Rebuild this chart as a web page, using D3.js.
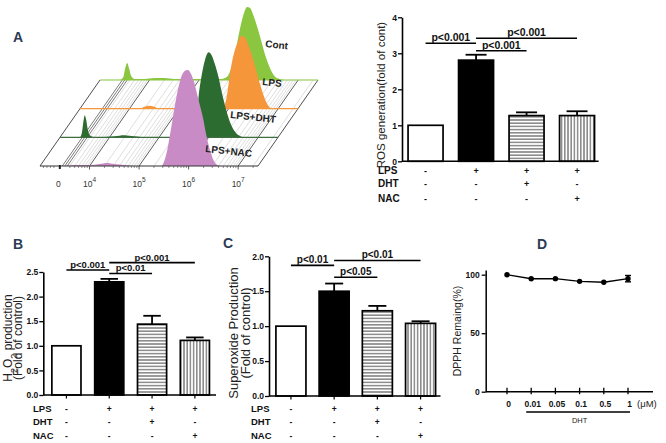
<!DOCTYPE html>
<meta charset="utf-8">
<script src="https://d3js.org/d3.v7.min.js"></script>
<style>
  body { margin: 0; background: #fff; }
  svg text { font-family: "Liberation Sans", Arial, sans-serif; }
</style>
<div id="fig"></div>
<script>
// groups and treatment table under the bars
var groups = ["Cont", "LPS", "LPS+DHT", "LPS+NAC"];
var rowLPS = ["-", "+", "+", "+"];
var rowDHT = ["-", "-", "+", "-"];
var rowNAC = ["-", "-", "-", "+"];

// A (right): ROS generation, fold of cont
var rosMean = [1.0, 2.81, 1.27, 1.27];
var rosErr  = [0, 0.15, 0.09, 0.12];
var rosSig  = [[0, 1, 3.28, "p<0.001"], [1, 3, 3.42, "p<0.001"], [1, 2, 3.07, "p<0.001"]];

// B: H2O2 production
var h2o2Mean = [1.0, 2.30, 1.44, 1.11];
var h2o2Err  = [0, 0.06, 0.17, 0.06];
var h2o2Sig  = [[0, 1, 2.54, "p<0.001"], [1, 3, 2.69, "p<0.001"], [1, 2, 2.47, "p<0.01"]];

// C: superoxide production
var supMean = [1.0, 1.50, 1.22, 1.04];
var supErr  = [0, 0.11, 0.07, 0.03];
var supSig  = [[0, 1, 1.87, "p<0.01"], [1, 3, 1.94, "p<0.01"], [1, 2, 1.70, "p<0.05"]];

// D: DPPH remaining vs DHT dose (uM)
var doses    = ["0", "0.01", "0.05", "0.1", "0.5", "1"];
var dpphMean = [100, 96.5, 96.6, 94.3, 93.5, 96.6];
var dpphErr  = [0, 0, 0, 0, 0, 2.7];

// A (left): flow histograms, [log10 intensity, count]
var contHist = [[3.0,0],[3.4,0],[3.47,3],[3.51,12],[3.55,17],[3.59,11],[3.63,4],[3.7,1],[3.9,1],[4.1,2],[4.3,2],[4.5,1],[4.8,1],[5.2,1],[5.45,1],[5.52,2],[5.58,4],[5.66,14],[5.74,30],[5.82,50],[5.9,66],[5.97,73],[6.03,72],[6.1,64],[6.18,52],[6.26,38],[6.34,24],[6.43,12],[6.52,4],[6.62,1],[6.75,0],[7.4,0]];
var lpsHist  = [[3.0,0],[4.2,0],[4.3,2],[4.4,3],[4.5,2],[4.6,0],[5.88,0],[5.93,5],[5.98,18],[6.03,36],[6.1,54],[6.18,66],[6.26,73],[6.33,71],[6.41,62],[6.49,50],[6.57,36],[6.65,22],[6.73,10],[6.8,3],[6.88,0],[7.4,0]];
var dhtHist  = [[3.0,0],[3.4,0],[3.44,4],[3.47,15],[3.5,22],[3.53,17],[3.56,8],[3.6,2],[3.7,0],[4.1,1],[4.3,2],[4.5,1],[4.7,0],[5.68,0],[5.72,6],[5.76,20],[5.8,42],[5.86,62],[5.93,78],[6.0,85],[6.06,82],[6.12,74],[6.2,60],[6.27,44],[6.35,28],[6.44,14],[6.54,5],[6.64,1],[6.72,0],[7.4,0]];
var nacHist  = [[3.0,0],[3.5,0],[3.7,1],[4.0,1],[4.2,2],[4.35,3],[4.5,2],[4.7,1],[5.0,0],[5.45,0],[5.5,4],[5.56,14],[5.62,30],[5.68,48],[5.75,68],[5.82,84],[5.9,94],[5.98,96],[6.05,92],[6.12,82],[6.2,66],[6.29,48],[6.36,30],[6.43,16],[6.5,6],[6.58,1],[6.65,0],[7.4,0]];
var flowHists  = [contHist, lpsHist, dhtHist, nacHist];
var flowColors = ["#8ac640", "#f6963b", "#2d6c31", "#c98bc5"];
var flowLines  = ["#8ac640", "#f6963b", "#3e6e40", "#333"];

var svg = d3.select("#fig").append("svg")
    .attr("width", 666).attr("height", 443)
    .style("display", "block").style("background", "#fff");

// stripe fills
var defs = svg.append("defs");
var ph = defs.append("pattern").attr("id", "hstripe")
    .attr("patternUnits", "userSpaceOnUse").attr("width", 6).attr("height", 3.2);
ph.append("rect").attr("width", 6).attr("height", 3.2).attr("fill", "#fff");
ph.append("line").attr("x1", 0).attr("x2", 6).attr("y1", 1.6).attr("y2", 1.6)
    .attr("stroke", "#333").attr("stroke-width", 0.9);
var pv = defs.append("pattern").attr("id", "vstripe")
    .attr("patternUnits", "userSpaceOnUse").attr("width", 3.2).attr("height", 6);
pv.append("rect").attr("width", 3.2).attr("height", 6).attr("fill", "#fff");
pv.append("line").attr("y1", 0).attr("y2", 6).attr("x1", 1.6).attr("x2", 1.6)
    .attr("stroke", "#333").attr("stroke-width", 0.9);
var fills = ["#fff", "#000", "url(#hstripe)", "url(#vstripe)"];

function panelLetter(t, x, y) {
  svg.append("text").attr("x", x).attr("y", y).text(t)
    .style("font-size", "14px").style("font-weight", "bold").attr("fill", "#2b3a55");
}

function yLabel(g, lines, xs, yc, size) {
  lines.forEach(function(segs, k) {
    var t = g.append("text")
      .attr("transform", "translate(" + xs[k] + "," + yc + ") rotate(-90)")
      .attr("text-anchor", "middle").style("font-size", size + "px").attr("fill", "#222");
    segs.forEach(function(s) {
      var sp = t.append("tspan").text(s[0]);
      if (s[1]) sp.attr("baseline-shift", "sub").style("font-size", (size * 0.75) + "px");
    });
  });
}

function barPanel(p) {
  var g = svg.append("g");
  var x = d3.scaleBand().domain(groups).range(p.xr).paddingInner(p.pi).paddingOuter(p.po);
  var y = d3.scaleLinear().domain(p.yd).range(p.yr);
  var bw = x.bandwidth();

  g.selectAll("rect.bar").data(p.mean).enter().append("rect")
    .attr("class", "bar")
    .attr("x", function(d, i) { return x(groups[i]); })
    .attr("y", function(d) { return y(d); })
    .attr("width", bw)
    .attr("height", function(d) { return y(0) - y(d); })
    .attr("fill", function(d, i) { return fills[i]; })
    .attr("stroke", "#000").attr("stroke-width", 1.7);

  // error bars, upper half only
  p.mean.forEach(function(m, i) {
    if (!p.err[i]) return;
    var cx = x(groups[i]) + bw / 2, top = y(m + p.err[i]);
    g.append("line").attr("x1", cx).attr("x2", cx).attr("y1", y(m)).attr("y2", top)
      .attr("stroke", "#000").attr("stroke-width", 1.8);
    g.append("line").attr("x1", cx - bw * 0.3).attr("x2", cx + bw * 0.3).attr("y1", top).attr("y2", top)
      .attr("stroke", "#000").attr("stroke-width", 1.8);
  });

  var ya = g.append("g").attr("transform", "translate(" + p.xr[0] + ",0)")
    .call(d3.axisLeft(y).tickValues(p.ticks).tickFormat(d3.format(p.fmt))
      .tickSize(4).tickSizeOuter(0).tickPadding(1));
  ya.select(".domain").attr("stroke-width", 1.6);
  ya.selectAll(".tick line").attr("stroke-width", 1.3);
  ya.selectAll("text").style("font-size", p.tickFont + "px").style("font-weight", "bold").attr("fill", "#111");

  g.append("line").attr("x1", p.xr[0]).attr("x2", p.xr[1] - 2).attr("y1", y(0)).attr("y2", y(0))
    .attr("stroke", "#000").attr("stroke-width", 1.6);
  if (p.xTicks) {
    groups.forEach(function(c) {
      var cx = x(c) + bw / 2;
      g.append("line").attr("x1", cx).attr("x2", cx).attr("y1", y(0)).attr("y2", y(0) + 3.5)
        .attr("stroke", "#000").attr("stroke-width", 1.2);
    });
  }

  // significance bars
  p.sig.forEach(function(s) {
    var x1 = x(groups[s[0]]) + bw / 2, x2 = x(groups[s[1]]) + bw / 2, yy = y(s[2]);
    g.append("line").attr("x1", x1).attr("x2", x2).attr("y1", yy).attr("y2", yy)
      .attr("stroke", "#000").attr("stroke-width", 1.6);
    g.append("text").attr("x", (x1 + x2) / 2).attr("y", yy - 2).attr("text-anchor", "middle")
      .style("font-size", p.pFont + "px").style("font-weight", "bold").attr("fill", "#111").text(s[3]);
  });

  // treatment table
  [["LPS", rowLPS], ["DHT", rowDHT], ["NAC", rowNAC]].forEach(function(r, j) {
    g.append("text").attr("x", p.rowX).attr("y", p.rowY[j]).text(r[0])
      .style("font-size", p.rowFont + "px").style("font-weight", "bold").attr("fill", "#111");
    g.selectAll(null).data(r[1]).enter().append("text")
      .attr("x", function(d, i) { return x(groups[i]) + bw / 2; })
      .attr("y", p.rowY[j]).attr("text-anchor", "middle")
      .style("font-size", (p.rowFont - 1) + "px").style("font-weight", "bold").attr("fill", "#111")
      .text(function(d) { return d; });
  });

  yLabel(g, p.label, p.labelX, p.labelY, p.labelFont);
}

// ---- A left: overlaid flow histograms on a slanted floor
var flow = svg.append("g");
var fx = d3.scaleLinear().domain([3, 7.4]).range([40, 258]);
var fh = d3.scaleLinear().domain([0, 100]).range([0, 100]);
var frontY = 166, rowGap = 28.67, rowShift = 20;
var depthX = 3 * rowShift, depthY = 3 * rowGap;
function baseY(i) { return frontY - (3 - i) * rowGap; }
function shiftX(i) { return (3 - i) * rowShift; }

var minorVals = [];
[3, 4, 5, 6, 7].forEach(function(d) {
  for (var k = 2; k <= 9; k++) {
    var v = d + Math.log10(k);
    if (v > 3.6 && v < 7.4) minorVals.push(v);
  }
});
function diag(v, col, w) {
  flow.append("line").attr("x1", fx(v)).attr("y1", frontY)
    .attr("x2", fx(v) + depthX).attr("y2", frontY - depthY)
    .attr("stroke", col).attr("stroke-width", w);
}
minorVals.forEach(function(v) { diag(v, "#bdbdbd", 0.5); });
[3.45, 3.5, 3.55].forEach(function(v) { diag(v, "#444", 0.7); });
[4, 5, 6, 7].forEach(function(v) { diag(v, "#333", 0.8); });
diag(3, "#222", 0.8);
diag(7.4, "#222", 0.8);

var area = d3.area().curve(d3.curveMonotoneX);
flowHists.forEach(function(h, i) {
  var b = baseY(i), dx = shiftX(i);
  flow.append("path").datum(h)
    .attr("d", area.x(function(d) { return fx(d[0]) + dx; })
      .y0(b).y1(function(d) { return b - fh(d[1]); }))
    .attr("fill", flowColors[i]);
  flow.append("line").attr("x1", fx(3) + dx).attr("x2", fx(7.4) + dx).attr("y1", b).attr("y2", b)
    .attr("stroke", flowLines[i]).attr("stroke-width", i === 3 ? 1 : 1.1);
});

// front axis ticks
var tickVals = [3.07, 3.14, 3.21, 3.28].concat(minorVals);
tickVals.forEach(function(v) {
  flow.append("line").attr("x1", fx(v)).attr("x2", fx(v)).attr("y1", frontY).attr("y2", frontY + 2)
    .attr("stroke", "#444").attr("stroke-width", 0.6);
});
[4, 5, 6, 7].forEach(function(v) {
  flow.append("line").attr("x1", fx(v)).attr("x2", fx(v)).attr("y1", frontY).attr("y2", frontY + 3.5)
    .attr("stroke", "#333").attr("stroke-width", 0.8);
  var t = flow.append("text").attr("x", fx(v)).attr("y", 187).attr("text-anchor", "middle")
    .style("font-size", "8.5px").attr("fill", "#333");
  t.append("tspan").text("10");
  t.append("tspan").attr("dy", -5).style("font-size", "6.5px").text(v);
});
flow.append("line").attr("x1", fx(3.4)).attr("x2", fx(3.4)).attr("y1", frontY - 1).attr("y2", frontY + 3)
  .attr("stroke", "#222").attr("stroke-width", 2);
flow.append("text").attr("x", fx(3.37)).attr("y", 187).attr("text-anchor", "middle")
  .style("font-size", "8.5px").attr("fill", "#333").text("0");

var flowLabelPos = [[265, 47], [262, 85], [230, 118], [205, 152]];
groups.forEach(function(name, i) {
  flow.append("text")
    .attr("transform", "translate(" + flowLabelPos[i][0] + "," + flowLabelPos[i][1] + ") rotate(6)")
    .style("font-size", "10px").style("font-weight", "bold").attr("fill", "#222").text(name);
});

// ---- A right
barPanel({
  xr: [402, 600.6], pi: 0.307, po: 0.12,
  yd: [0, 4], yr: [161.3, 17.3], ticks: [0, 1, 2, 3, 4], fmt: "d", tickFont: 8.5,
  mean: rosMean, err: rosErr, sig: rosSig, pFont: 10.5, xTicks: false,
  rowX: 378, rowY: [174, 187, 201.5], rowFont: 10,
  label: [[["ROS generation(fold of cont)"]]], labelX: [384.5], labelY: 95, labelFont: 11.5
});

// ---- B
barPanel({
  xr: [43.3, 218], pi: 0.32, po: 0.2,
  yd: [0, 2.5], yr: [395, 272], ticks: [0, 0.5, 1, 1.5, 2, 2.5], fmt: ".1f", tickFont: 8.5,
  mean: h2o2Mean, err: h2o2Err, sig: h2o2Sig, pFont: 9.5, xTicks: true,
  rowX: 33, rowY: [412, 425.3, 439.3], rowFont: 9.5,
  label: [[["H"], ["2", 1], ["O"], ["2", 1], [" production"]], [["(Fold of control)"]]],
  labelX: [11.5, 22], labelY: 338, labelFont: 12
});

// ---- C
barPanel({
  xr: [269, 442.5], pi: 0.305, po: 0.16,
  yd: [0, 2], yr: [396, 256.3], ticks: [0, 0.5, 1, 1.5, 2], fmt: ".1f", tickFont: 8.5,
  mean: supMean, err: supErr, sig: supSig, pFont: 10, xTicks: true,
  rowX: 251, rowY: [412, 425.3, 439.3], rowFont: 9.5,
  label: [[["Superoxide Production"]], [["(Fold of control)"]]],
  labelX: [237.5, 250], labelY: 333, labelFont: 13
});

// ---- D
var gd = svg.append("g");
var xd = d3.scalePoint().domain(doses).range([507, 628]);
var yd = d3.scaleLinear().domain([0, 104]).range([391.7, 270]);
var yAxD = gd.append("g").attr("transform", "translate(485.7,0)")
  .call(d3.axisLeft(yd).tickValues([0, 50, 100]).tickSize(4).tickSizeOuter(0).tickPadding(2));
yAxD.select(".domain").attr("stroke-width", 1.5);
yAxD.selectAll(".tick line").attr("stroke-width", 1.3);
yAxD.selectAll("text").style("font-size", "8.5px").style("font-weight", "bold").attr("fill", "#111");
gd.append("line").attr("x1", 485.7).attr("x2", 653).attr("y1", yd(0)).attr("y2", yd(0))
  .attr("stroke", "#000").attr("stroke-width", 1.5);
doses.forEach(function(d) {
  gd.append("line").attr("x1", xd(d)).attr("x2", xd(d)).attr("y1", yd(0) - 4).attr("y2", yd(0) + 2.5)
    .attr("stroke", "#000").attr("stroke-width", 1.3);
  gd.append("text").attr("x", xd(d) + 1.5).attr("y", 406.5).attr("text-anchor", "middle")
    .style("font-size", "8.5px").style("font-weight", "bold").attr("fill", "#111").text(d);
});
gd.append("text").attr("x", 637).attr("y", 406.5).style("font-size", "9.5px").attr("fill", "#222").text("(\u03bcM)");
gd.append("line").attr("x1", xd("0.01") - 5).attr("x2", xd("1") + 2).attr("y1", 412).attr("y2", 412)
  .attr("stroke", "#000").attr("stroke-width", 1.3);
gd.append("text").attr("x", (xd("0.01") + xd("1")) / 2).attr("y", 423).attr("text-anchor", "middle")
  .style("font-size", "7.5px").attr("fill", "#222").text("DHT");

gd.append("path").datum(dpphMean)
  .attr("d", d3.line().x(function(d, i) { return xd(doses[i]); }).y(function(d) { return yd(d); }))
  .attr("fill", "none").attr("stroke", "#000").attr("stroke-width", 1.4);
dpphMean.forEach(function(m, i) {
  var cx = xd(doses[i]);
  if (dpphErr[i]) {
    [m - dpphErr[i], m + dpphErr[i]].forEach(function(v) {
      gd.append("line").attr("x1", cx - 3).attr("x2", cx + 3).attr("y1", yd(v)).attr("y2", yd(v))
        .attr("stroke", "#000").attr("stroke-width", 1.4);
    });
    gd.append("line").attr("x1", cx).attr("x2", cx).attr("y1", yd(m - dpphErr[i])).attr("y2", yd(m + dpphErr[i]))
      .attr("stroke", "#000").attr("stroke-width", 1.4);
  }
  gd.append("circle").attr("cx", cx).attr("cy", yd(m)).attr("r", 2.7).attr("fill", "#000");
});
yLabel(gd, [[["DPPH Remaing(%)"]]], [461], 331, 10.5);

panelLetter("A", 13, 42);
panelLetter("B", 13, 249);
panelLetter("C", 223, 248);
panelLetter("D", 537, 249);
</script>
